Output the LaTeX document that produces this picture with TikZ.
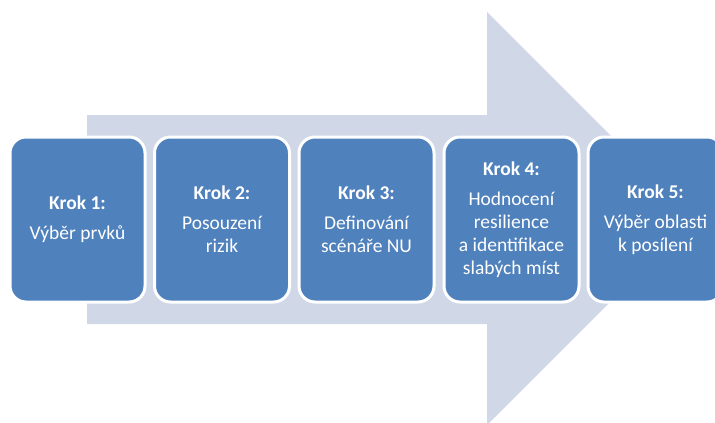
\documentclass[tikz,border=0pt]{standalone}
\usepackage{fontspec}
\setmainfont{Carlito}
\definecolor{stepblue}{HTML}{4F81BD}
\definecolor{arrowgray}{HTML}{D0D8E8}
\begin{document}
\begin{tikzpicture}[x=1pt,y=-1pt,
  stepbox/.style={rectangle, rounded corners=16pt, fill=stepblue, draw=white,
    line width=3pt, minimum width=135pt, minimum height=165pt, inner sep=2pt,
    align=center, text=white, font=\fontsize{19.5}{23}\selectfont}]
\useasboundingbox (0,0) rectangle (715,423);
\fill[arrowgray] (87,115) -- (487,115) -- (487,12) -- (693.5,218.5) -- (487,425) -- (487,324) -- (87,324) -- cycle;
\node[stepbox] (s1) at (77.5,219.5) {\textbf{Krok 1:}\\[7pt]Výběr prvků};
\node[stepbox] (s2) at (222,219.5) {\textbf{Krok 2:}\\[7pt]Posouzení\\rizik};
\node[stepbox] (s3) at (366.5,219.5) {\textbf{Krok 3:}\\[7pt]Definování\\scénáře NU};
\node[stepbox] (s4) at (511.5,219.5) {\textbf{Krok 4:}\\[7pt]Hodnocení\\resilience\\a identifikace\\slabých míst};
\node[stepbox] (s5) at (655.5,219.5) {\textbf{Krok 5:}\\[7pt]Výběr oblasti\\k posílení};
\end{tikzpicture}
\end{document}
